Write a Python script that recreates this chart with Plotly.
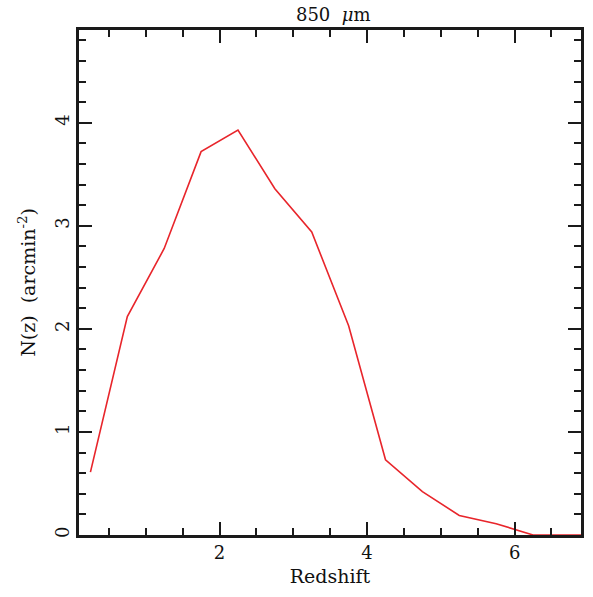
import plotly.graph_objects as go

redshift = [0.25, 0.75, 1.25, 1.75, 2.25, 2.75, 3.25, 3.75, 4.25, 4.75, 5.25, 5.75, 6.25, 6.75, 7.25]
nz = [0.61, 2.12, 2.78, 3.72, 3.93, 3.36, 2.94, 2.03, 0.73, 0.42, 0.19, 0.11, 0.0, 0.0, 0.0]

x_ticks = [2, 4, 6]
y_ticks = [0, 1, 2, 3, 4]

FONT = "DejaVu Serif"
INK = "#1a1a1a"
TICKF = dict(family=FONT, size=18, color="#111111")
TITLEF = dict(family=FONT, size=19, color="#111111")

fig = go.Figure()
fig.add_trace(go.Scatter(x=redshift, y=nz, mode="lines",
                         line=dict(color="#e8252b", width=1.6),
                         showlegend=False, cliponaxis=True))

axis_common = dict(
    showgrid=False, zeroline=False, showline=True, linecolor=INK, linewidth=2.5,
    mirror="allticks", ticks="inside", ticklen=13, tickwidth=1.5, tickcolor=INK,
    tickfont=TICKF,
)

fig.update_xaxes(range=[0.095, 6.9], tickvals=x_ticks, ticktext=[str(v) for v in x_ticks],
                 minor=dict(dtick=0.5, tick0=0, ticks="inside", ticklen=7, tickwidth=1.5, tickcolor=INK),
                 title=dict(text="Redshift", font=TITLEF, standoff=8),
                 **axis_common)
fig.update_yaxes(range=[0, 4.9], tickvals=y_ticks, ticktext=[str(v) for v in y_ticks], tickangle=-90,
                 minor=dict(dtick=0.2, tick0=0, ticks="inside", ticklen=7, tickwidth=1.5, tickcolor=INK),
                 title=dict(text="N(z)  (arcmin<sup>-2</sup>)", font=TITLEF, standoff=12),
                 **axis_common)

fig.update_layout(
    width=593, height=597,
    margin=dict(l=79, r=9, t=30, b=62),
    paper_bgcolor="white", plot_bgcolor="white",
    title=dict(text="850  <i>μ</i>m", x=0.562, xanchor="center", y=0.975, yanchor="middle",
               font=dict(family=FONT, size=18, color="#111111")),
)

fig.write_html("out.html")
